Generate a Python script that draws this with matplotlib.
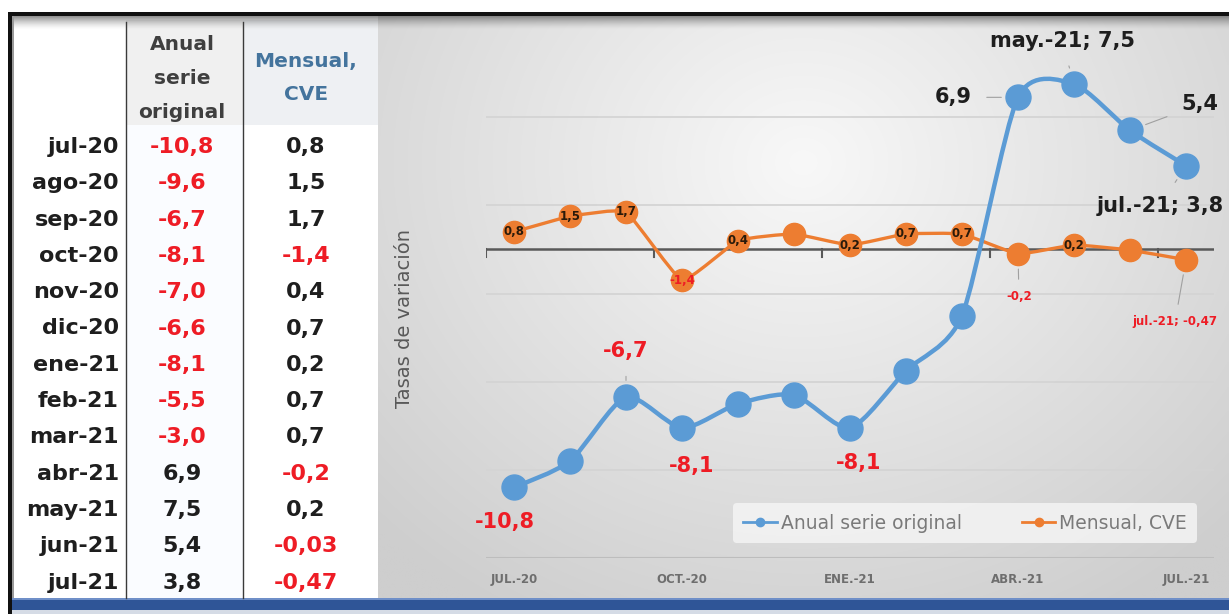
import numpy as np
import matplotlib
matplotlib.use("Agg")
import matplotlib.pyplot as plt
from matplotlib.path import Path
from matplotlib.patches import PathPatch, Rectangle
from matplotlib.lines import Line2D

# ---------------- data ----------------
months_table = ["jul-20", "ago-20", "sep-20", "oct-20", "nov-20", "dic-20", "ene-21",
                "feb-21", "mar-21", "abr-21", "may-21", "jun-21", "jul-21"]
anual = [-10.8, -9.6, -6.7, -8.1, -7.0, -6.6, -8.1, -5.5, -3.0, 6.9, 7.5, 5.4, 3.8]
mensual = [0.8, 1.5, 1.7, -1.4, 0.4, 0.7, 0.2, 0.7, 0.7, -0.2, 0.2, -0.03, -0.47]
anual_text = ["-10,8", "-9,6", "-6,7", "-8,1", "-7,0", "-6,6", "-8,1", "-5,5", "-3,0",
              "6,9", "7,5", "5,4", "3,8"]
mensual_text = ["0,8", "1,5", "1,7", "-1,4", "0,4", "0,7", "0,2", "0,7", "0,7",
                "-0,2", "0,2", "-0,03", "-0,47"]
header_anual = ["Anual", "serie", "original"]
header_mensual = ["Mensual,", "CVE"]
xtick_pos = [0, 3, 6, 9, 12]
xtick_labels = ["JUL.-20", "OCT.-20", "ENE.-21", "ABR.-21", "JUL.-21"]
series_names = ["Anual serie original", "Mensual, CVE"]
y_label = "Tasas de variación"

# data labels shown on the chart: index -> text
anual_labels = {0: "-10,8", 2: "-6,7", 3: "-8,1", 6: "-8,1", 9: "6,9",
                10: "may.-21; 7,5", 11: "5,4", 12: "jul.-21; 3,8"}
mensual_labels = {0: "0,8", 1: "1,5", 2: "1,7", 3: "-1,4", 4: "0,4", 6: "0,2",
                  7: "0,7", 8: "0,7", 9: "-0,2", 10: "0,2", 12: "jul.-21; -0,47"}

# ---------------- style ----------------
BLUE = "#5B9BD5"
ORANGE = "#ED7D31"
RED = "#EE1C25"
DARK = "#1E1E1E"
GRAY = "#595959"
FONT = "DejaVu Sans"

W, H = 1229, 614
fig = plt.figure(figsize=(W / 100, H / 100), dpi=100)
fig.patch.set_facecolor("white")

bg = fig.add_axes([0, 0, 1, 1])
bg.set_xlim(0, W)
bg.set_ylim(H, 0)
bg.axis("off")

# chart panel gradient
gx0, gx1, gy0, gy1 = 378, W, 16, 600
gxx, gyy = np.meshgrid(np.linspace(0, 1, 300), np.linspace(0, 1, 200))
dist = np.sqrt(((gxx - 0.5) / 0.7) ** 2 + ((gyy - 0.25) / 0.9) ** 2)
val = (248 - 42 * np.clip(dist, 0, 1)) / 255.0
img = np.dstack([val, val, val])
bg.imshow(img, extent=(gx0, gx1, gy1, gy0), aspect="auto", interpolation="bilinear", zorder=0)

# table background
bg.add_patch(Rectangle((11, 16), 367, 584, facecolor="white", edgecolor="none", zorder=1))
bg.add_patch(Rectangle((126, 20), 117, 105, facecolor="#F0F0F0", edgecolor="none", zorder=1))
bg.add_patch(Rectangle((243, 20), 135, 105, facecolor="#EEF0F3", edgecolor="none", zorder=1))
bg.add_patch(Rectangle((126, 125), 117, 475, facecolor="#FAFCFF", edgecolor="none", zorder=1))

# top shadow
sh = np.linspace(1, 0, 40)[:, None] * np.ones((1, 10))
shadow = np.zeros((40, 10, 4))
shadow[..., 0:3] = 0.35
shadow[..., 3] = 0.75 * sh ** 1.5
bg.imshow(shadow, extent=(11, W, 30, 15), aspect="auto", interpolation="bilinear", zorder=2)

# frame
bg.add_patch(Rectangle((8, 12), W - 8, 3.5, facecolor="#111111", edgecolor="none", zorder=3))
bg.add_patch(Rectangle((8, 12), 3.5, H - 12, facecolor="#111111", edgecolor="none", zorder=3))
bg.add_patch(Rectangle((11.5, 15.5), 2, H - 15, facecolor="#9A9A9A", edgecolor="none", zorder=3))
bg.add_patch(Rectangle((11.5, 598), W, 12, facecolor="#2F5597", edgecolor="none", zorder=3))
bg.add_patch(Rectangle((11.5, 598), W, 2, facecolor="#6F8FC8", edgecolor="none", zorder=3))
bg.add_patch(Rectangle((11.5, 610), W, 4, facecolor="#D5DBE5", edgecolor="none", zorder=3))

# table dividers
for xd in (125.5, 243):
    bg.plot([xd, xd], [22, 598], color="#3A3A3A", lw=1.0, zorder=3)

# header text
for i, t in enumerate(header_anual):
    bg.text(182, 45 + 33.5 * i, t, ha="center", va="center", fontsize=14.5,
            fontweight="bold", color="#3F3F3F", family=FONT, zorder=4)
for i, t in enumerate(header_mensual):
    bg.text(306, 62 + 33 * i, t, ha="center", va="center", fontsize=14.5,
            fontweight="bold", color="#44749D", family=FONT, zorder=4)

# body text
row0, drow = 147, 36.3
for i, m in enumerate(months_table):
    yy = row0 + drow * i
    bg.text(119, yy, m, ha="right", va="center", fontsize=16, fontweight="bold",
            color=DARK, family=FONT, zorder=4)
    bg.text(182, yy, anual_text[i], ha="center", va="center", fontsize=16, fontweight="bold",
            color=RED if anual[i] < 0 else DARK, family=FONT, zorder=4)
    bg.text(306, yy, mensual_text[i], ha="center", va="center", fontsize=16, fontweight="bold",
            color=RED if mensual[i] < 0 else DARK, family=FONT, zorder=4)

# y label
bg.text(405, 318, y_label, rotation=90, ha="center", va="center", fontsize=14,
        color=GRAY, family=FONT, zorder=4)

# ---------------- chart ----------------
ax = fig.add_axes([486 / W, (H - 558) / H, 728 / W, 529 / H])
ax.set_facecolor("none")
ax.set_xlim(-0.5, 12.5)
ax.set_ylim(-14, 10)
for s in ax.spines.values():
    s.set_visible(False)

ax.set_yticks(np.arange(-14, 10, 4))
ax.yaxis.grid(True, color="#D4D4D4", lw=1.3)
ax.tick_params(axis="y", length=0, labelleft=False)
ax.axhline(-14, color="#BDBDBD", lw=1.5, zorder=1)
ax.set_axisbelow(True)

ax.set_xticks(xtick_pos)
ax.set_xticklabels(xtick_labels, fontsize=8.5, fontweight="bold", color="#6E6E6E", family=FONT)
ax.tick_params(axis="x", length=0, pad=11)

# zero line with category ticks
ax.axhline(0, color="#595959", lw=1.8, zorder=2)
for b in np.arange(-0.5, 12.5, 3):
    ax.plot([b, b], [0, -0.35], color="#595959", lw=1.5, zorder=2)


def smooth_path(x, y, k):
    pts = np.column_stack([x, y]).astype(float)
    n = len(pts)
    verts = [pts[0]]
    codes = [Path.MOVETO]
    for i in range(n - 1):
        p0 = pts[i - 1] if i > 0 else pts[i]
        p1, p2 = pts[i], pts[i + 1]
        p3 = pts[i + 2] if i + 2 < n else pts[i + 1]
        verts += [p1 + (p2 - p0) * k, p2 - (p3 - p1) * k, p2]
        codes += [Path.CURVE4] * 3
    return Path(verts, codes)


xs = np.arange(len(anual))
ax.add_patch(PathPatch(smooth_path(xs, mensual, 0.06), facecolor="none", edgecolor=ORANGE,
                       lw=2.4, zorder=3, capstyle="round", joinstyle="round"))
ax.plot(xs, mensual, "o", ms=16, color=ORANGE, mec=ORANGE, zorder=4)
ax.add_patch(PathPatch(smooth_path(xs, anual, 0.12), facecolor="none", edgecolor=BLUE,
                       lw=3.2, zorder=5, capstyle="round", joinstyle="round"))
ax.plot(xs, anual, "o", ms=18, color=BLUE, mec=BLUE, zorder=6)

# blue labels: offsets in pixels (dx, dy up), leader flag
anual_offsets = {0: (-9, -35, False), 2: (0, 46, True), 3: (10, -38, False),
                 6: (9, -35, False), 9: (-65, 0, True), 10: (-12, 43, True),
                 11: (70, 26, True), 12: (-26, -40, True)}
for i, t in anual_labels.items():
    dx, dy, lead = anual_offsets[i]
    kw = dict(arrowprops=dict(arrowstyle="-", color="#A0A0A0", lw=0.8,
                              shrinkA=9, shrinkB=12)) if lead else {}
    ax.annotate(t, (xs[i], anual[i]), xytext=(dx, dy), textcoords="offset pixels",
                ha="center", va="center", fontsize=15, fontweight="bold", family=FONT,
                color=RED if anual[i] < 0 else DARK, zorder=8, **kw)

mensual_offsets = {9: (1, -43, True), 12: (-11, -62, True)}
for i, t in mensual_labels.items():
    if i in mensual_offsets:
        dx, dy, lead = mensual_offsets[i]
        ax.annotate(t, (xs[i], mensual[i]), xytext=(dx, dy), textcoords="offset pixels",
                    ha="center", va="center", fontsize=8.5, fontweight="bold", family=FONT,
                    color=RED, zorder=8, annotation_clip=False,
                    arrowprops=dict(arrowstyle="-", color="#A0A0A0", lw=0.8,
                                    shrinkA=6, shrinkB=11))
    else:
        ax.annotate(t, (xs[i], mensual[i]), xytext=(0, 0), textcoords="offset pixels",
                    ha="center", va="center", fontsize=8.5, fontweight="bold", family=FONT,
                    color=RED if mensual[i] < 0 else "#2A1A0A", zorder=8)

handles = [Line2D([], [], color=BLUE, lw=2, marker="o", ms=6),
           Line2D([], [], color=ORANGE, lw=2, marker="o", ms=6)]
leg = ax.legend(handles, series_names, loc="center", bbox_to_anchor=(0.658, 0.066),
                ncol=2, frameon=True, handlelength=1.8, handletextpad=0.2,
                columnspacing=3.2, borderpad=0.55, borderaxespad=0,
                prop={"family": FONT, "size": 13.5})
leg.get_frame().set_facecolor("#F4F4F4")
leg.get_frame().set_alpha(0.85)
leg.get_frame().set_edgecolor("none")
for t in leg.get_texts():
    t.set_color("#7A7A7A")

fig.savefig("out.png", dpi=100)
